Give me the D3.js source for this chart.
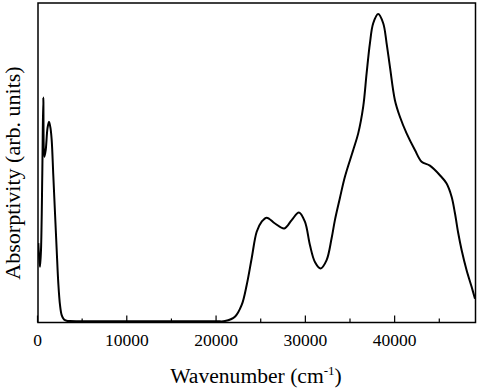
<!DOCTYPE html>
<html><head><meta charset="utf-8">
<script src="https://cdn.jsdelivr.net/npm/d3@7/dist/d3.min.js"></script>
<style>body{margin:0;background:#fff}svg{display:block}</style>
</head><body>
<svg id="c" width="479" height="391"></svg>
<script>
const wavenumber = [90,168,280,392,538,650,762,918,1120,1288,1456,1590,1770,1960,2150,2330,2520,2710,2970,3270,3640,5000,10000,15000,20000,21000,22110,22870,23430,23990,24550,25110,25670,26600,27640,28470,29280,29950,30510,31070,31710,32380,32940,33310,33870,34430,35360,35920,36480,36860,37230,37600,38160,38720,39100,39470,40030,40590,41340,42270,43020,43950,45070,45820,46380,46750,47120,47500,48060,48620,49000];
const absorptivity = [0.255,0.216,0.178,0.233,0.483,0.729,0.536,0.558,0.629,0.650,0.629,0.590,0.475,0.353,0.233,0.125,0.054,0.021,0.0065,0.0026,0.0016,0.001,0.001,0.001,0.001,0.0016,0.0156,0.054,0.119,0.206,0.292,0.325,0.338,0.319,0.303,0.330,0.355,0.325,0.249,0.194,0.173,0.200,0.271,0.330,0.402,0.471,0.558,0.612,0.699,0.807,0.905,0.970,1.000,0.970,0.905,0.829,0.720,0.666,0.612,0.558,0.520,0.507,0.476,0.449,0.406,0.353,0.288,0.233,0.167,0.113,0.074];
const xTickLabels = [0,10000,20000,30000,40000];
const xMinorTicks = [5000,15000,25000,35000,45000];

const svg = d3.select("#c");
const L=38, R=475.5, T=3, B=322.5;
const x = d3.scaleLinear().domain([0,49000]).range([37.5,475]);
const y = d3.scaleLinear().domain([-0.003,1.036]).range([B,T]);
const font = "'Liberation Serif','Times New Roman',serif";

svg.append("clipPath").attr("id","clip").append("rect")
  .attr("x",L).attr("y",T).attr("width",R-L).attr("height",B-T);

const line = d3.line().x((d,i)=>x(wavenumber[i])).y(d=>y(d)).curve(d3.curveCatmullRom.alpha(0.5));
svg.append("path").datum(absorptivity).attr("d",line)
  .attr("fill","none").attr("stroke","#000").attr("stroke-width",2)
  .attr("stroke-linejoin","round").attr("clip-path","url(#clip)");

// ticks (inside)
const ax = svg.append("g");
ax.selectAll("line.maj").data(xTickLabels).enter().append("line")
  .attr("x1",d=>x(d)).attr("x2",d=>x(d)).attr("y1",B).attr("y2",B-7)
  .attr("stroke","#000").attr("stroke-width",1.2);
ax.selectAll("line.min").data(xMinorTicks).enter().append("line")
  .attr("x1",d=>x(d)).attr("x2",d=>x(d)).attr("y1",B).attr("y2",B-4)
  .attr("stroke","#000").attr("stroke-width",1.2);
ax.selectAll("text").data(xTickLabels).enter().append("text")
  .attr("x",d=>x(d)).attr("y",345.5).attr("text-anchor","middle")
  .attr("font-family",font).attr("font-size",17.5).text(d=>d);

// frame
svg.append("rect").attr("x",L).attr("y",T).attr("width",R-L).attr("height",B-T)
  .attr("fill","none").attr("stroke","#000").attr("stroke-width",1.5);

// titles
const xt = svg.append("text").attr("x",256).attr("y",383).attr("text-anchor","middle")
  .attr("font-family",font).attr("font-size",21.6);
xt.append("tspan").text("Wavenumber (cm");
xt.append("tspan").attr("dy",-8).attr("font-size",13).text("-1");
xt.append("tspan").attr("dy",8).text(")");

svg.append("text").attr("transform","translate(20,173) rotate(-90)")
  .attr("text-anchor","middle").attr("font-family",font).attr("font-size",22)
  .text("Absorptivity (arb. units)");
</script>
</body></html>
